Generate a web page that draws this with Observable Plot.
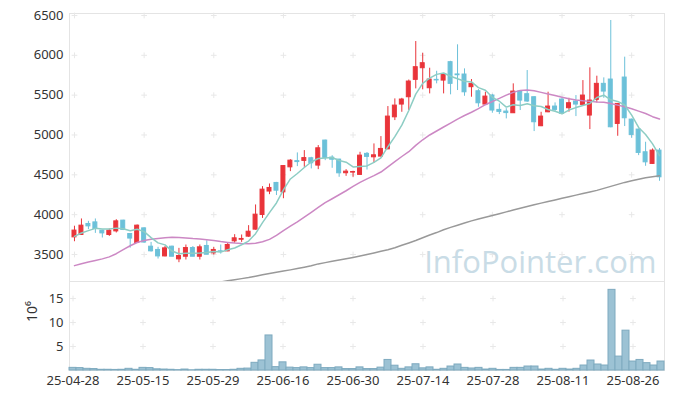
<!DOCTYPE html>
<html><head><meta charset="utf-8">
<script src="https://cdn.jsdelivr.net/npm/d3@7"></script>
<script src="https://cdn.jsdelivr.net/npm/@observablehq/plot@0.6"></script>
<style>
body{margin:0;background:#fff;font-family:"Noto Sans",sans-serif;}
#chart{position:relative;width:673px;height:399px;}
#chart svg{display:block;}
</style></head><body><div id="chart"></div>
<script>
const dates = ["25-04-28","25-04-29","25-04-30","25-05-02","25-05-07","25-05-08","25-05-09","25-05-12","25-05-13","25-05-14",
"25-05-15","25-05-16","25-05-19","25-05-20","25-05-21","25-05-22","25-05-23","25-05-26","25-05-27","25-05-28",
"25-05-29","25-05-30","25-06-02","25-06-04","25-06-05","25-06-09","25-06-10","25-06-11","25-06-12","25-06-13",
"25-06-16","25-06-17","25-06-18","25-06-19","25-06-20","25-06-23","25-06-24","25-06-25","25-06-26","25-06-27",
"25-06-30","25-07-01","25-07-02","25-07-03","25-07-04","25-07-07","25-07-08","25-07-09","25-07-10","25-07-11",
"25-07-14","25-07-15","25-07-16","25-07-17","25-07-18","25-07-21","25-07-22","25-07-23","25-07-24","25-07-25",
"25-07-28","25-07-29","25-07-30","25-07-31","25-08-01","25-08-04","25-08-05","25-08-06","25-08-07","25-08-08",
"25-08-11","25-08-12","25-08-13","25-08-14","25-08-18","25-08-19","25-08-20","25-08-21","25-08-22","25-08-25",
"25-08-26","25-08-27","25-08-28","25-08-29","25-09-01"];
const open = [3715,3745,3883,3903,3799,3745,3790,3925,3757,3644,3828,3598,3557,3476,3598,3439,3472,3581,3472,3607,
3514,3540,3539,3665,3685,3724,3812,3996,4290,4398,4280,4594,4672,4675,4708,4616,4930,4716,4691,4520,
4528,4499,4763,4720,4729,4820,5222,5382,5474,5692,5838,5587,5692,5683,5914,5760,5759,5600,5549,5382,
5495,5315,5294,5273,5545,5512,5474,5110,5285,5357,5445,5336,5420,5378,5244,5441,5642,5696,5139,5721,
5193,5068,4783,4637,4804];
const high = [3855,3946,3916,3946,3805,3820,3937,3930,3760,3870,3835,3652,3590,3600,3605,3577,3619,3600,3619,3673,
3590,3619,3640,3749,3745,3862,4122,4352,4385,4405,4616,4690,4775,4804,4720,4867,4935,4740,4695,4565,
4545,4783,4780,4888,4980,5357,5453,5460,5690,6173,6026,5838,5800,5765,5925,6132,5830,5696,5570,5537,
5510,5390,5330,5642,5555,5809,5480,5285,5537,5403,5460,5461,5495,5683,5843,5738,5717,6437,5395,5977,
5200,5075,4909,4825,4830];
const low = [3660,3740,3812,3765,3707,3727,3770,3800,3580,3640,3640,3530,3443,3470,3472,3397,3431,3472,3431,3497,
3493,3505,3535,3640,3652,3715,3805,3953,4251,4240,4200,4540,4603,4594,4574,4565,4678,4582,4469,4481,
4469,4495,4560,4645,4725,4815,5181,5285,5307,5579,5567,5516,5642,5516,5504,5558,5486,5474,5348,5375,
5273,5256,5202,5270,5307,5410,5043,5105,5280,5290,5256,5286,5231,5375,5068,5403,5461,5090,4984,5106,
4959,4741,4607,4630,4419];
const close = [3800,3862,3853,3820,3765,3799,3916,3808,3700,3862,3650,3540,3476,3577,3472,3481,3581,3472,3590,3497,
3557,3535,3619,3703,3695,3786,4000,4314,4335,4301,4610,4678,4660,4710,4645,4833,4712,4690,4519,4540,
4535,4741,4725,4745,4825,5231,5369,5445,5671,5851,5901,5696,5685,5759,5642,5750,5536,5642,5398,5482,
5307,5290,5275,5545,5432,5420,5160,5231,5357,5315,5265,5399,5382,5495,5432,5642,5545,5097,5390,5210,
5001,4775,4657,4804,4469];
// volume, millions of shares
const volume = [0.55,0.5,0.35,0.3,0.15,0.15,0.12,0.15,0.35,0.15,0.55,0.5,0.25,0.2,0.15,0.08,0.2,0.05,0.15,0.15,
0.15,0.1,0.1,0.15,0.35,0.4,1.6,2.1,7.3,0.7,1.7,0.6,0.5,0.65,0.5,1.2,0.5,0.5,0.65,0.3,
0.3,0.65,0.3,0.3,0.6,2.2,1.0,0.35,0.65,1.3,0.45,0.65,0.15,0.35,0.83,1.25,0.55,0.42,0.55,0.2,
0.35,0.12,0.12,0.55,0.55,0.83,0.83,0.2,0.35,0.15,0.35,0.2,0.35,1.04,2.08,1.25,1.04,16.8,2.9,8.3,
1.87,2.2,1.53,1.04,1.87];
const ma5 = [3727,3770,3800,3828,3820,3820,3831,3822,3798,3817,3787,3712,3646,3621,3543,3509,3517,3517,3519,3524,
3539,3530,3560,3582,3622,3668,3761,3900,4026,4147,4312,4448,4517,4592,4661,4705,4712,4718,4680,4659,
4599,4605,4612,4657,4714,4853,4979,5123,5308,5513,5647,5713,5761,5778,5737,5706,5674,5666,5594,5562,
5473,5424,5350,5380,5370,5392,5366,5358,5320,5297,5266,5313,5344,5371,5395,5470,5499,5442,5421,5377,
5249,5095,5007,4889,4741];
const ma20 = [3360,3385,3405,3425,3445,3470,3510,3560,3610,3650,3675,3690,3702,3710,3715,3713,3708,3700,3694,3685,
3675,3662,3652,3643,3638,3636,3640,3660,3690,3740,3800,3855,3910,3970,4030,4090,4150,4200,4250,4300,
4355,4405,4450,4490,4535,4600,4665,4730,4790,4870,4940,5000,5050,5100,5150,5200,5245,5285,5330,5380,
5420,5460,5500,5535,5560,5565,5555,5535,5515,5495,5475,5455,5440,5430,5422,5415,5410,5395,5375,5355,
5330,5300,5270,5230,5200];
const ma60 = [null,null,null,null,null,null,null,null,null,null,null,null,null,null,null,null,null,null,null,null,
null,3155,3170,3183,3197,3210,3227,3245,3262,3278,3292,3307,3323,3340,3358,3382,3398,3414,3430,3446,
3462,3480,3500,3520,3540,3560,3585,3615,3645,3675,3710,3745,3775,3810,3840,3868,3895,3922,3945,3968,
3990,4012,4035,4058,4080,4102,4125,4145,4165,4185,4205,4225,4245,4265,4285,4305,4330,4355,4380,4405,
4425,4445,4462,4475,4488];
const xTickLabels = ["25-04-28","25-05-15","25-05-29","25-06-16","25-06-30","25-07-14","25-07-28","25-08-11","25-08-26"];
const priceTicks = [3500,4000,4500,5000,5500,6000,6500];
const volTicks = [5,10,15];

const data = dates.map((d,i)=>({date:d,open:open[i],high:high[i],low:low[i],close:close[i],
  volume:volume[i],ma5:ma5[i],ma20:ma20[i],ma60:ma60[i]}));
const UP="#e9343a", DOWN="#6cc1d9";
const col = d => d.close >= d.open ? UP : DOWN;
const gridP = xTickLabels.flatMap(x=>priceTicks.map(y=>({x,y})));
const gridV = xTickLabels.flatMap(x=>volTicks.map(y=>({x,y})));
const font = {fontSize:"13px", fontFamily:"'Noto Sans', sans-serif", color:"#333", background:"transparent"};

const price = Plot.plot({
  width:673, height:281, marginTop:13, marginBottom:0, marginLeft:69, marginRight:9,
  style:font,
  x:{type:"band", domain:dates, padding:0.43, axis:null},
  y:{domain:[3161,6525], ticks:priceTicks, tickFormat:d=>String(d), tickSize:0, tickPadding:6, label:null},
  marks:[
    Plot.frame({stroke:"#e4e4e4"}),
    Plot.dot(gridP,{x:"x",y:"y",symbol:"plus",r:2,stroke:"#e8e8e8",strokeWidth:1}),
    Plot.text(["InfoPointer.com"],{frameAnchor:"bottom-right",dx:-8,dy:-9,fontSize:31,fill:"#c9dce6",fontFamily:"'Open Sans', sans-serif"}),
    Plot.ruleX(data,{x:"date",y1:"low",y2:"high",stroke:col,strokeWidth:1,clip:true}),
    Plot.barY(data,{x:"date",y1:"open",y2:"close",fill:col,stroke:col,strokeWidth:1,clip:true}),
    Plot.line(data,{x:"date",y:"ma60",stroke:"#999999",strokeWidth:1.5,clip:true}),
    Plot.line(data,{x:"date",y:"ma20",stroke:"#cc88c4",strokeWidth:1.5,clip:true}),
    Plot.line(data,{x:"date",y:"ma5",stroke:"#8dcdc4",strokeWidth:1.5,clip:true})
  ]
});
const vol = Plot.plot({
  width:673, height:118, marginTop:0, marginBottom:29, marginLeft:69, marginRight:9,
  style:font,
  x:{type:"band", domain:dates, padding:0, ticks:xTickLabels, tickSize:0, tickPadding:5, label:null},
  y:{domain:[0,18.54], ticks:volTicks, tickFormat:d=>String(d), tickSize:0, tickPadding:6, label:null},
  marks:[
    Plot.frame({stroke:"#e4e4e4"}),
    Plot.dot(gridV,{x:"x",y:"y",symbol:"plus",r:2,stroke:"#e8e8e8",strokeWidth:1}),
    Plot.barY(data,{x:"date",y:"volume",fill:"#9cc2d4",stroke:"#7eaabf",strokeWidth:1}),
    Plot.text(["10⁶"],{frameAnchor:"left",dx:-37,dy:-4,rotate:-90,fontSize:14,fill:"#333"})
  ]
});
const c = document.getElementById("chart");
c.appendChild(price); c.appendChild(vol);
</script></body></html>
